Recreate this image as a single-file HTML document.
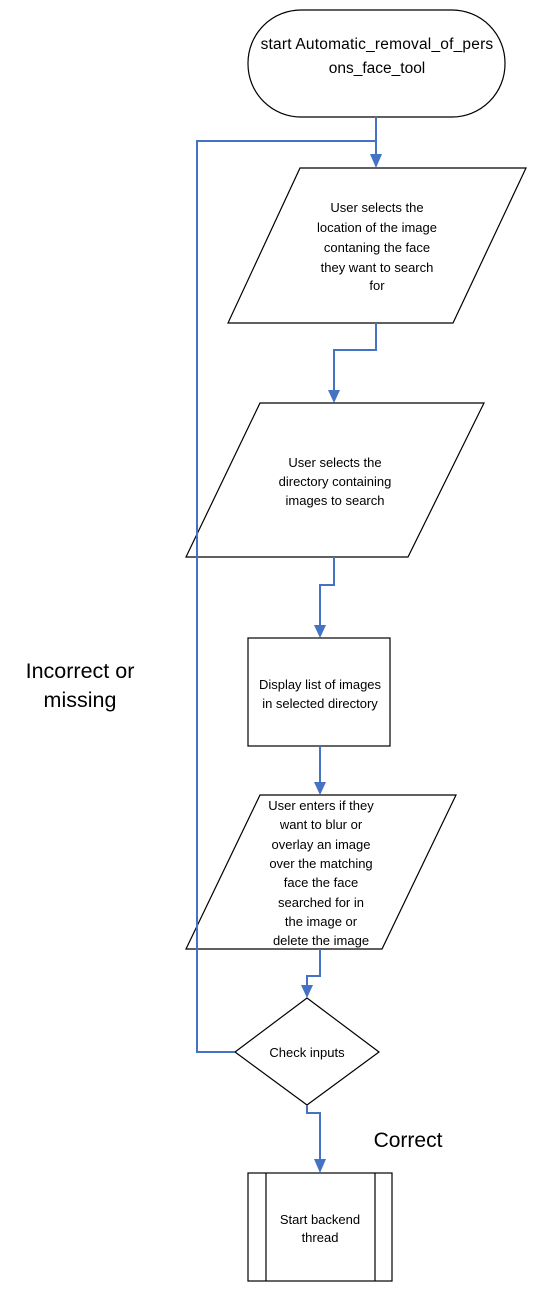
<!DOCTYPE html>
<html><head><style>
body{margin:0;background:#fff;}
svg{display:block;}
text{font-family:"Liberation Sans",sans-serif;font-size:13px;fill:#000;}
</style></head><body>
<svg width="537" height="1293" viewBox="0 0 537 1293">
<g fill="none" stroke="#000" stroke-width="1.2">
<rect x="248" y="10" width="257" height="107" rx="53" ry="53" fill="#fff"/>
<polygon points="300,168 526,168 453,323 228,323" fill="#fff"/>
<polygon points="260,403 484,403 408,557 186,557" fill="#fff"/>
<rect x="248" y="638" width="142" height="108" fill="#fff"/>
<polygon points="260,795 456,795 382,949 186,949" fill="#fff"/>
<polygon points="307,998 379,1052 307,1105 235,1052" fill="#fff"/>
<rect x="248" y="1173" width="144" height="108" fill="#fff"/>
<line x1="266" y1="1173" x2="266" y2="1281"/>
<line x1="375" y1="1173" x2="375" y2="1281"/>
</g>
<g fill="none" stroke="#4472C4" stroke-width="2">
<polyline points="376,117 376,156"/>
<polyline points="235,1052 197,1052 197,141 376,141"/>
<polyline points="376,323 376,350 334,350 334,392"/>
<polyline points="334,557 334,585 320,585 320,627"/>
<polyline points="320,746 320,784"/>
<polyline points="320,949 320,976 307,976 307,987"/>
<polyline points="307,1105 307,1113 320,1113 320,1161"/>
</g>
<g fill="#4472C4">
<polygon points="370,154 382,154 376,168"/>
<polygon points="328,390 340,390 334,403"/>
<polygon points="314,625 326,625 320,638"/>
<polygon points="314,782 326,782 320,795"/>
<polygon points="301,985 313,985 307,998"/>
<polygon points="314,1159 326,1159 320,1173"/>
</g>
<g text-anchor="middle">
<text x="377" y="49" style="font-size:15.5px;letter-spacing:0.2px">start Automatic_removal_of_pers</text>
<text x="377" y="73" style="font-size:15.5px">ons_face_tool</text>
<text x="377" y="212">User selects the</text>
<text x="377" y="232">location of the image</text>
<text x="377" y="252">contaning the face</text>
<text x="377" y="272">they want to search</text>
<text x="377" y="290">for</text>
<text x="335" y="467">User selects the</text>
<text x="335" y="486">directory containing</text>
<text x="335" y="505">images to search</text>
<text x="320" y="689">Display list of images</text>
<text x="320" y="708">in selected directory</text>
<text x="321" y="810">User enters if they</text>
<text x="321" y="829">want to blur or</text>
<text x="321" y="849">overlay an image</text>
<text x="321" y="868">over the matching</text>
<text x="321" y="887">face the face</text>
<text x="321" y="907">searched for in</text>
<text x="321" y="926">the image or</text>
<text x="321" y="945">delete the image</text>
<text x="307" y="1057">Check inputs</text>
<text x="320" y="1224">Start backend</text>
<text x="320" y="1242">thread</text>
<text x="80" y="678" style="font-size:21.5px">Incorrect or</text>
<text x="80" y="707" style="font-size:21.5px">missing</text>
<text x="408" y="1147" style="font-size:21px">Correct</text>
</g>
</svg>
</body></html>
